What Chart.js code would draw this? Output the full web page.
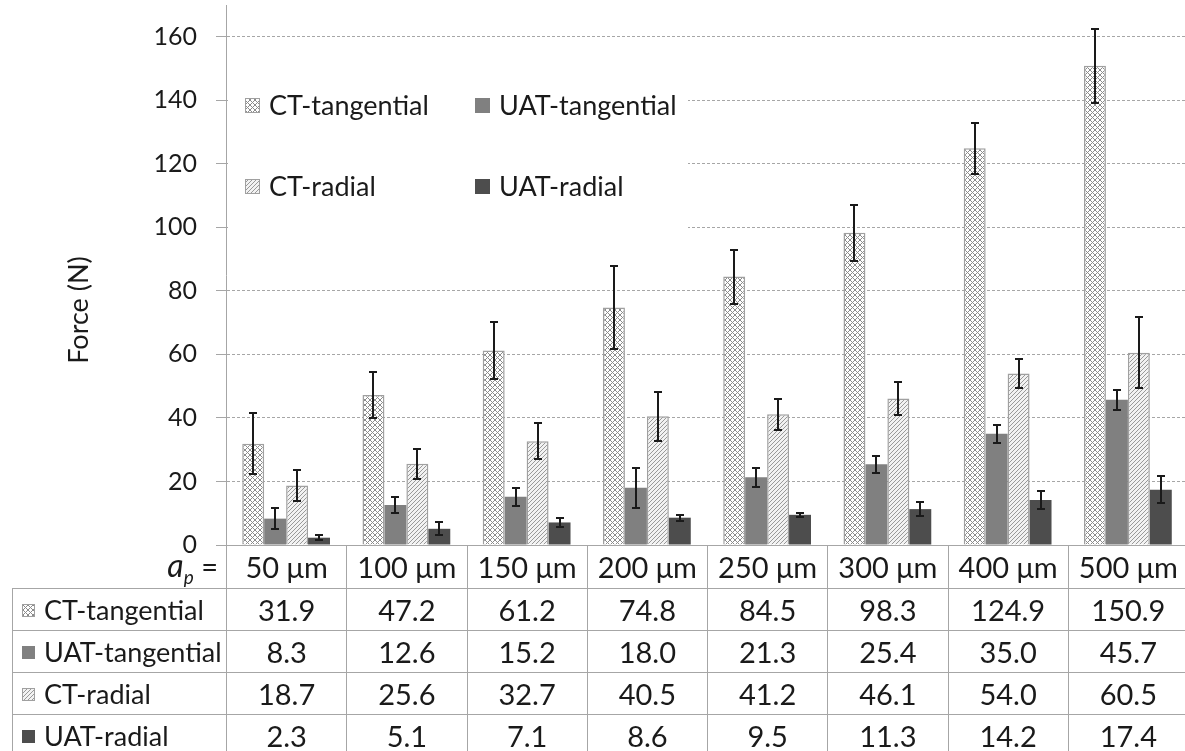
<!DOCTYPE html>
<html>
<head>
<meta charset="utf-8">
<title>Force (N) vs a_p</title>
<script src="https://cdn.jsdelivr.net/npm/chart.js@4.4.1/dist/chart.umd.min.js"></script>
<style>
  html, body { margin: 0; padding: 0; background: #fff; overflow: hidden; }
  #wrap { position: relative; width: 1185px; height: 751px; overflow: hidden; }
  #chart { position: absolute; left: 0; top: 0; }
  #forceTable {
    position: absolute; left: 12px; top: 545px;
    border-collapse: collapse; table-layout: fixed;
    font-family: Lato, sans-serif; font-size: 29px; color: #1a1a1a;
  }
  #forceTable td {
    border: 1px solid #a6a6a6; height: 41px; padding: 0;
    text-align: center; white-space: nowrap; overflow: hidden;
  }
  #forceTable tr:first-child td { border-top: none; }
  #forceTable td.corner { border-left: none; text-align: right; padding-right: 8px; }
  #forceTable td.name { text-align: left; padding-left: 9px; font-size: 27px; }
  #forceTable td.corner i { font-size: 32px; }
  #forceTable td.corner sub { font-size: 19px; font-style: italic; }
  .swatch {
    display: inline-block; width: 13px; height: 13px; margin-right: 9px;
    vertical-align: middle; position: relative; top: -2px; box-sizing: border-box;
  }
</style>
</head>
<body>
<div id="wrap">
  <canvas id="chart" width="1190" height="600" style="width:1190px;height:600px"></canvas>
  <table id="forceTable"><colgroup id="cols"></colgroup><tbody id="rows"></tbody></table>
</div>
<script>
// depth of cut
const categories = ['50 μm', '100 μm', '150 μm', '200 μm', '250 μm', '300 μm', '400 μm', '500 μm'];

// mean forces (N)
const ctTangential  = [31.9, 47.2, 61.2, 74.8, 84.5, 98.3, 124.9, 150.9];
const uatTangential = [8.3, 12.6, 15.2, 18.0, 21.3, 25.4, 35.0, 45.7];
const ctRadial      = [18.7, 25.6, 32.7, 40.5, 41.2, 46.1, 54.0, 60.5];
const uatRadial     = [2.3, 5.1, 7.1, 8.6, 9.5, 11.3, 14.2, 17.4];

// error bars (+/-)
const ctTangentialErr  = [9.5, 7.3, 9.0, 13.0, 8.5, 8.8, 8.1, 11.7];
const uatTangentialErr = [3.3, 2.5, 2.8, 6.2, 2.9, 2.7, 2.8, 3.2];
const ctRadialErr      = [5.0, 4.7, 5.7, 7.7, 4.9, 5.1, 4.7, 11.2];
const uatRadialErr     = [0.7, 2.0, 1.3, 0.9, 0.7, 2.1, 2.8, 4.2];

const yTicks = [0, 20, 40, 60, 80, 100, 120, 140, 160];

const GRID = '#a6a6a6';
const TEXT = '#1a1a1a';

// little hatch tiles, used both on the canvas and in the table swatches
function makeTile(kind) {
  var n = kind === 'cross' ? 5 : 4;
  var c = document.createElement('canvas');
  c.width = n; c.height = n;
  var g = c.getContext('2d');
  g.fillStyle = kind === 'cross' ? '#ffffff' : '#f2f2f2';
  g.fillRect(0, 0, n, n);
  g.fillStyle = kind === 'cross' ? '#8c8c8c' : '#999999';
  for (var i = 0; i < n; i++) {
    g.fillRect(i, n - 1 - i, 1, 1);
    if (kind === 'cross') g.fillRect(i, i, 1, 1);
  }
  return c;
}

var crossTile = makeTile('cross');
var diagTile = makeTile('diag');
var tmpCtx = document.createElement('canvas').getContext('2d');

var series = [
  { name: 'CT-tangential', data: ctTangential, err: ctTangentialErr,
    fill: tmpCtx.createPattern(crossTile, 'repeat'), css: 'url(' + crossTile.toDataURL() + ')', border: '#a0a0a0', bw: 1.5 },
  { name: 'UAT-tangential', data: uatTangential, err: uatTangentialErr,
    fill: '#808080', css: '#808080', border: '#808080', bw: 0 },
  { name: 'CT-radial', data: ctRadial, err: ctRadialErr,
    fill: tmpCtx.createPattern(diagTile, 'repeat'), css: 'url(' + diagTile.toDataURL() + ')', border: '#a0a0a0', bw: 1.5 },
  { name: 'UAT-radial', data: uatRadial, err: uatRadialErr,
    fill: '#4d4d4d', css: '#4d4d4d', border: '#4d4d4d', bw: 0 }
];

const errorBars = {
  id: 'errorBars',
  afterDatasetsDraw(chart) {
    var ctx = chart.ctx, y = chart.scales.y;
    ctx.save();
    ctx.strokeStyle = '#1a1a1a';
    ctx.lineWidth = 2;
    chart.data.datasets.forEach(function (ds, i) {
      chart.getDatasetMeta(i).data.forEach(function (bar, j) {
        var v = ds.data[j], e = ds.errors[j];
        var top = Math.round(y.getPixelForValue(v + e));
        var bot = Math.round(y.getPixelForValue(v - e));
        var x = Math.round(bar.x);
        ctx.beginPath();
        ctx.moveTo(x, top); ctx.lineTo(x, bot);
        ctx.moveTo(x - 4, top); ctx.lineTo(x + 4, top);
        ctx.moveTo(x - 4, bot); ctx.lineTo(x + 4, bot);
        ctx.stroke();
      });
    });
    ctx.restore();
  }
};

// legend sits inside the plot, 2 x 2, on a white box
const boxLegend = {
  id: 'boxLegend',
  afterDraw(chart) {
    var ctx = chart.ctx;
    ctx.save();
    ctx.fillStyle = '#fff';
    ctx.fillRect(228, 45, 460, 192);
    var colX = [245, 475], rowY = [106, 187];
    ctx.font = '27px Lato';
    ctx.textBaseline = 'middle';
    series.forEach(function (s, i) {
      var x = colX[i % 2], y = rowY[Math.floor(i / 2)];
      ctx.fillStyle = s.fill;
      ctx.fillRect(x, y - 8, 15, 15);
      if (s.bw) {
        ctx.strokeStyle = s.border; ctx.lineWidth = 1;
        ctx.strokeRect(x + 0.5, y - 7.5, 14, 14);
      }
      ctx.fillStyle = TEXT;
      ctx.fillText(s.name, x + 24, y);
    });
    // axis title
    ctx.translate(79, 310);
    ctx.rotate(-Math.PI / 2);
    ctx.textAlign = 'center';
    ctx.fillText('Force (N)', 0, 0);
    ctx.restore();
  }
};

function buildTable(chart) {
  var area = chart.chartArea;
  var colW = (area.right - area.left) / categories.length;
  var cols = document.getElementById('cols');
  var html = '<col style="width:' + (area.left - 12) + 'px">';
  categories.forEach(function () { html += '<col style="width:' + colW + 'px">'; });
  cols.innerHTML = html;

  var rows = '<tr><td class="corner"><i>a</i><sub>p</sub> =</td>';
  categories.forEach(function (c) { rows += '<td>' + c + '</td>'; });
  rows += '</tr>';
  series.forEach(function (s) {
    var sw = 'background:' + s.css + ';' + (s.bw ? 'border:1px solid ' + s.border + ';' : '');
    rows += '<tr><td class="name"><span class="swatch" style="' + sw + '"></span>' + s.name + '</td>';
    s.data.forEach(function (v) { rows += '<td>' + v.toFixed(1) + '</td>'; });
    rows += '</tr>';
  });
  document.getElementById('rows').innerHTML = rows;
  document.getElementById('forceTable').style.width = (area.left - 12 + colW * categories.length) + 'px';
}

function draw() {
  Chart.defaults.font.family = 'Lato';
  Chart.defaults.color = TEXT;

  var chart = new Chart(document.getElementById('chart'), {
    type: 'bar',
    data: {
      labels: categories,
      datasets: series.map(function (s) {
        return {
          label: s.name,
          data: s.data,
          errors: s.err,
          backgroundColor: s.fill,
          borderColor: s.border,
          borderWidth: s.bw,
          categoryPercentage: 0.73,
          barPercentage: 1.0
        };
      })
    },
    options: {
      responsive: false,
      animation: false,
      layout: { padding: { top: 5, right: 2, bottom: 55, left: 0 } },
      plugins: { legend: { display: false }, tooltip: { enabled: false } },
      scales: {
        x: {
          grid: { display: false },
          ticks: { display: false },
          border: { display: true, color: GRID, width: 1 },
          afterFit: function (scale) { scale.height = 0; }
        },
        y: {
          min: 0,
          max: 170,
          ticks: { stepSize: 20, padding: 19, font: { size: 25 }, color: TEXT },
          afterBuildTicks: function (scale) {
            scale.ticks = yTicks.map(function (v) { return { value: v }; });
          },
          afterFit: function (scale) {
            scale.width = 226;
            scale.paddingTop = 0;
            scale.paddingBottom = 0;
          },
          grid: { color: GRID, lineWidth: 1, tickLength: 10, tickColor: GRID, tickBorderDash: [] },
          border: { display: true, color: GRID, width: 1, dash: [3, 2] }
        }
      }
    },
    plugins: [errorBars, boxLegend]
  });
  buildTable(chart);
}

if (document.fonts && document.fonts.load) {
  document.fonts.load('27px Lato').then(draw, draw);
} else {
  draw();
}
</script>
</body>
</html>
